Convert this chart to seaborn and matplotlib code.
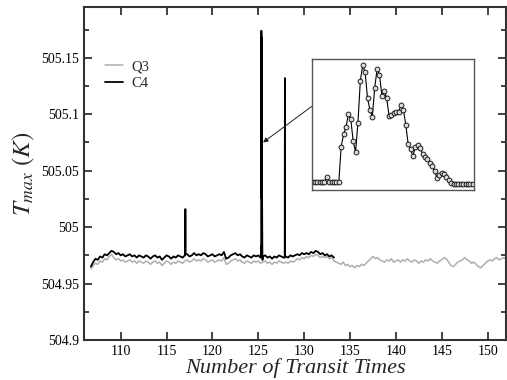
import numpy as np
import pandas as pd
import matplotlib
matplotlib.use("Agg")
import matplotlib.pyplot as plt
import seaborn as sns
from matplotlib.ticker import FixedLocator, FormatStrFormatter

# ---------------- data ----------------
# regular samples (step 0.25 transit times)
c4_start, c4_step = 106.75, 0.25
c4_vals = [
    504.965, 504.969, 504.972, 504.971, 504.974, 504.973,
    504.976, 504.975, 504.977, 504.979, 504.978, 504.976,
    504.977, 504.975, 504.976, 504.974, 504.975, 504.976,
    504.974, 504.975, 504.973, 504.975, 504.974, 504.973,
    504.975, 504.974, 504.972, 504.974, 504.975, 504.973,
    504.974, 504.971, 504.973, 504.975, 504.974, 504.972,
    504.974, 504.973, 504.975, 504.974, 504.973, 504.975,
    504.976, 504.974, 504.975, 504.977, 504.975, 504.976,
    504.975, 504.977, 504.976, 504.974, 504.975, 504.976,
    504.974, 504.975, 504.976, 504.975, 504.978, 504.972,
    504.973, 504.975, 504.976, 504.977, 504.975, 504.976,
    504.974, 504.973, 504.975, 504.974, 504.973, 504.975,
    504.974, 504.975, 504.973, 504.974, 504.975, 504.973,
    504.974, 504.972, 504.974, 504.973, 504.975, 504.974,
    504.973, 504.974, 504.973, 504.975, 504.974, 504.975,
    504.976, 504.975, 504.977, 504.976, 504.977, 504.976,
    504.978, 504.977, 504.979, 504.978, 504.976, 504.977,
    504.975, 504.976, 504.974, 504.975, 504.973,
]
q3_start, q3_step = 106.75, 0.25
q3_vals = [
    504.963, 504.966, 504.968, 504.967, 504.970, 504.969,
    504.972, 504.971, 504.974, 504.976, 504.973, 504.971,
    504.972, 504.970, 504.971, 504.969, 504.970, 504.971,
    504.969, 504.970, 504.968, 504.970, 504.969, 504.968,
    504.970, 504.969, 504.967, 504.969, 504.970, 504.968,
    504.969, 504.966, 504.968, 504.970, 504.969, 504.967,
    504.969, 504.968, 504.970, 504.969, 504.968, 504.970,
    504.971, 504.969, 504.970, 504.972, 504.970, 504.971,
    504.970, 504.972, 504.971, 504.969, 504.970, 504.971,
    504.969, 504.970, 504.971, 504.970, 504.973, 504.967,
    504.968, 504.970, 504.971, 504.972, 504.970, 504.971,
    504.969, 504.968, 504.970, 504.969, 504.968, 504.970,
    504.969, 504.970, 504.968, 504.969, 504.970, 504.968,
    504.969, 504.967, 504.969, 504.968, 504.970, 504.969,
    504.968, 504.969, 504.968, 504.970, 504.969, 504.970,
    504.972, 504.971, 504.973, 504.972, 504.974, 504.973,
    504.975, 504.974, 504.976, 504.975, 504.973, 504.974,
    504.973, 504.974, 504.972, 504.973, 504.970, 504.969,
    504.968, 504.967, 504.969, 504.966, 504.967, 504.965,
    504.966, 504.964, 504.966, 504.965, 504.967, 504.966,
    504.968, 504.970, 504.972, 504.974, 504.972, 504.973,
    504.971, 504.970, 504.969, 504.971, 504.970, 504.972,
    504.969, 504.970, 504.971, 504.969, 504.971, 504.970,
    504.972, 504.970, 504.969, 504.971, 504.970, 504.968,
    504.970, 504.969, 504.971, 504.970, 504.972, 504.970,
    504.969, 504.968, 504.970, 504.971, 504.973, 504.972,
    504.969, 504.966, 504.965, 504.967, 504.969, 504.970,
    504.971, 504.973, 504.971, 504.970, 504.968, 504.969,
    504.967, 504.965, 504.964, 504.966, 504.968, 504.970,
    504.971, 504.970, 504.972, 504.973, 504.971, 504.972,
    504.973, 504.972,
]

# narrow C4 spikes (time, value)
spike_a_t = [117.02, 117.05, 117.08]
spike_a_v = [504.975, 505.016, 504.976]
spike_c_t = [127.88, 127.90, 127.92]
spike_c_v = [504.973, 505.132, 504.974]

# the spike near 125.4, shown enlarged in the inset
spike_b_t0, spike_b_t1 = 125.28, 125.47
spike_b_v = [
    504.974, 504.974, 504.974, 504.974, 504.974, 504.974, 504.983, 504.974,
    504.974, 504.974, 504.974, 504.974, 505.035, 505.056, 505.068, 505.091,
    505.082, 505.045, 505.026, 505.076, 505.148, 505.174, 505.162, 505.118,
    505.098, 505.086, 505.135, 505.168, 505.158, 505.122, 505.131, 505.118,
    505.088, 505.089, 505.092, 505.094, 505.095, 505.106, 505.098, 505.072,
    505.039, 505.030, 505.019, 505.035, 505.038, 505.032, 505.023, 505.017,
    505.013, 505.007, 505.002, 504.994, 504.982, 504.986, 504.989, 504.988,
    504.983, 504.978, 504.972, 504.971, 504.971, 504.971, 504.971, 504.971,
    504.971, 504.971, 504.971, 504.971,
]

x_ticks = [110, 115, 120, 125, 130, 135, 140, 145, 150]
y_ticks = [504.9, 504.95, 505.0, 505.05, 505.1, 505.15]
series_names = ["Q3", "C4"]

# ---------------- build tables ----------------
q3_t = q3_start + q3_step * np.arange(len(q3_vals))
c4_t = c4_start + c4_step * np.arange(len(c4_vals))
spike_b_t = np.linspace(spike_b_t0, spike_b_t1, len(spike_b_v))

q3_df = pd.DataFrame({"t": q3_t, "T": q3_vals})
c4_df = pd.concat([
    pd.DataFrame({"t": c4_t, "T": c4_vals}),
    pd.DataFrame({"t": spike_a_t, "T": spike_a_v}),
    pd.DataFrame({"t": spike_b_t, "T": spike_b_v}),
    pd.DataFrame({"t": spike_c_t, "T": spike_c_v}),
]).sort_values("t").reset_index(drop=True)
inset_df = pd.DataFrame({"i": np.arange(len(spike_b_v)), "T": spike_b_v})

# ---------------- style ----------------
sns.set_style("ticks")
plt.rcParams["font.family"] = ["Liberation Serif", "DejaVu Serif"]
plt.rcParams["mathtext.fontset"] = "stix"

fig = plt.figure(figsize=(5.07, 3.80), dpi=100)
ax = fig.add_axes([84 / 507, 40 / 380, 422 / 507, 333 / 380])

q3_color = "#aeaeae"
c4_color = "#000000"
sns.lineplot(data=q3_df, x="t", y="T", ax=ax, color=q3_color, lw=1.1,
             estimator=None, sort=False, label=series_names[0])
sns.lineplot(data=c4_df, x="t", y="T", ax=ax, color=c4_color, lw=1.3,
             estimator=None, sort=False, label=series_names[1])

ax.set_xlim(106, 152)
ax.set_ylim(504.9, 505.195)
ax.xaxis.set_major_locator(FixedLocator(x_ticks))
ax.yaxis.set_major_locator(FixedLocator(y_ticks))
ax.yaxis.set_minor_locator(FixedLocator([504.925, 504.975, 505.025, 505.075,
                                         505.125, 505.175]))
ax.yaxis.set_major_formatter(FormatStrFormatter("%g"))
ax.tick_params(which="both", direction="in", top=True, right=True,
               labelsize=10, colors="#222222", labelcolor="black", width=1.2)
ax.tick_params(which="major", length=6)
ax.tick_params(which="minor", length=3.5)
for s in ax.spines.values():
    s.set_linewidth(1.5)
    s.set_color("#333333")

ax.set_xlabel("Number of Transit Times", fontsize=16, style="italic", labelpad=0)
ax.set_ylabel(r"$T_{max}\ (K)$", fontsize=18, labelpad=3)

leg = ax.legend(loc="upper left", bbox_to_anchor=(0.05, 0.84), frameon=False,
                fontsize=10.5, handlelength=1.2, handletextpad=0.6,
                labelspacing=0.2, borderpad=0, borderaxespad=0)

# arrow pointing to the enlarged spike
ax.annotate("", xy=(125.52, 505.075), xytext=(130.83, 505.107),
            arrowprops=dict(arrowstyle="-|>", color="#222222", lw=0.7,
                            mutation_scale=7, shrinkA=0, shrinkB=0))

# ---------------- inset ----------------
ins = fig.add_axes([312 / 507, 190 / 380, 162 / 507, 131 / 380])
sns.lineplot(data=inset_df, x="i", y="T", ax=ins, color="black", lw=0.8,
             marker="o", markersize=3.5, markerfacecolor="#d9d9d9",
             markeredgecolor="black", markeredgewidth=0.6,
             estimator=None, sort=False)
ins.set_xlim(-0.2, 67.5)
ins.set_ylim(504.9606, 505.185)
ins.set_xticks([])
ins.set_yticks([])
ins.set_xlabel("")
ins.set_ylabel("")
for s in ins.spines.values():
    s.set_linewidth(1.0)
    s.set_color("#555555")

fig.savefig("out.png", dpi=100)
